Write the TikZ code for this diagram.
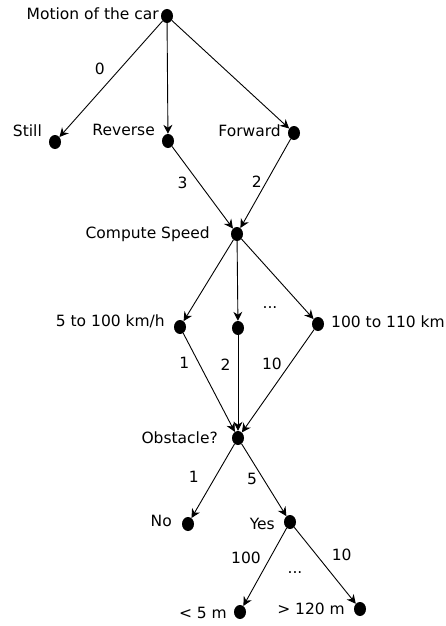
\documentclass[tikz,border=0pt]{standalone}
\usepackage{fontspec}
\setmainfont{DejaVu Sans}
\usetikzlibrary{arrows.meta,shapes.geometric}

\begin{document}
\begin{tikzpicture}[x=1pt, y=-1pt,
    every node/.style={font=\fontsize{15.5}{19}\selectfont},
    dot/.style={ellipse, fill=black, inner sep=0pt, minimum width=12pt, minimum height=14pt},
    txt/.style={inner sep=0pt, anchor=east},
    elab/.style={inner sep=0pt},
    arr/.style={-{Stealth[length=9pt,width=9pt]}, line width=0.9pt}]
  \useasboundingbox (0,0) rectangle (446,626);
  % chance nodes (dots)
  \node[dot] (car)   at (167,16)  {};
  \node[dot] (still) at (55,142)  {};
  \node[dot] (rev)   at (168,141) {};
  \node[dot] (fwd)   at (294,133) {};
  \node[dot] (speed) at (237,234) {};
  \node[dot] (slow)  at (180,327) {};
  \node[dot] (mid)   at (238,328) {};
  \node[dot] (fast)  at (318,324) {};
  \node[dot] (obst)  at (238,438) {};
  \node[dot] (no)    at (188,524) {};
  \node[dot] (yes)   at (290,522) {};
  \node[dot] (near)  at (240,612) {};
  \node[dot] (far)   at (360,609) {};

  % names of the nodes
  \node[txt] (carT)   at (159,14)  {Motion of the car};
  \node[txt] (stillT) at (42,131)  {Still};
  \node[txt] (revT)   at (155,130) {Reverse};
  \node[txt] (fwdT)   at (281,131) {Forward};
  \node[txt] (speedT) at (210,234) {Compute Speed};
  \node[txt] (slowT)  at (165,321) {5 to 100 km/h};
  \node[txt, anchor=west] (fastT) at (331,322) {100 to 110 km};
  \node[txt] (obstT)  at (218,438) {Obstacle?};
  \node[txt] (noT)    at (172,521) {No};
  \node[txt] (yesT)   at (275,524) {Yes};
  \node[txt] (nearT)  at (227,613) {< 5 m};
  \node[txt] (farT)   at (345,609) {> 120 m};
  \node[elab] (dotsA) at (270,308) {...};
  \node[elab] (dotsB) at (295,573) {...};

  % branches with weights
  \draw[arr] (car) -- (still) node[elab, pos=0.41, left=15pt] {0};
  \draw[arr] (car) -- (rev);
  \draw[arr] (car) -- (fwd);
  \draw[arr] (rev) -- (speed) node[elab, pos=0.44, left=11pt] {3};
  \draw[arr] (fwd) -- (speed) node[elab, pos=0.485, left=4pt] {2};
  \draw[arr] (speed) -- (slow);
  \draw[arr] (speed) -- (mid);
  \draw[arr] (speed) -- (fast);
  \draw[arr] (slow) -- (obst) node[elab, pos=0.3, left=9pt] {1};
  \draw[arr] (mid) -- (obst) node[elab, pos=0.31, left=7pt] {2};
  \draw[arr] (fast) -- (obst) node[elab, pos=0.33, left=8pt] {10};
  \draw[arr] (obst) -- (no) node[elab, pos=0.45, left=16pt] {1};
  \draw[arr] (obst) -- (yes) node[elab, pos=0.49, left=6pt] {5};
  \draw[arr] (yes) -- (near) node[elab, pos=0.38, left=9pt] {100};
  \draw[arr] (yes) -- (far) node[elab, pos=0.36, right=15pt] {10};
\end{tikzpicture}
\end{document}
